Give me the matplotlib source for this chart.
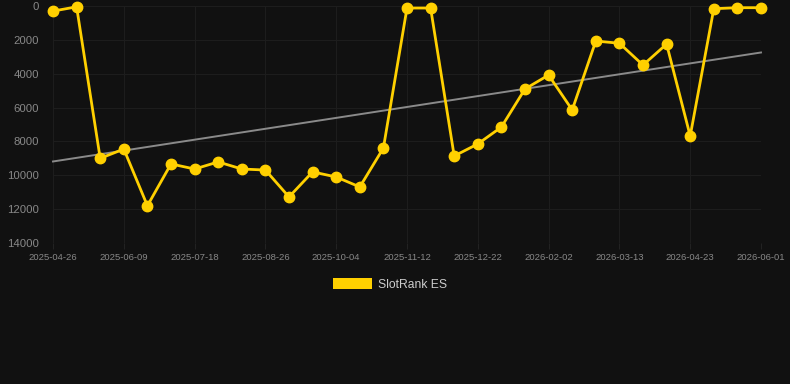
import matplotlib
matplotlib.use("Agg")
import matplotlib.pyplot as plt
import numpy as np
from matplotlib.patches import Patch

plt.rcParams['font.family'] = ['Liberation Sans', 'DejaVu Sans']

tick_labels = ["2025-04-26", "2025-06-09", "2025-07-18", "2025-08-26", "2025-10-04",
               "2025-11-12", "2025-12-22", "2026-02-02", "2026-03-13", "2026-04-23", "2026-06-01"]
ranks = [300, 50, 9000, 8450, 11800, 9330, 9630, 9210, 9630, 9690,
         11280, 9800, 10100, 10690, 8390, 120, 120, 8860, 8150, 7150,
         4900, 4080, 6140, 2070, 2200, 3490, 2250, 7680, 160, 100, 100]
series_name = "SlotRank ES"

bg = "#111111"
gold = "#FFD000"

fig = plt.figure(figsize=(7.9, 3.84), dpi=100, facecolor=bg)
ax = fig.add_axes([53/790, 1-243/384, (761-53)/790, (243-6)/384], facecolor=bg)

x = np.arange(len(ranks))
y = np.array(ranks, dtype=float)
coef = np.polyfit(x, y, 1)
ax.plot(x, np.polyval(coef, x), color="#8a8a8a", lw=1.4, zorder=2, clip_on=False)
ax.plot(x, y, color=gold, lw=2.0, marker='o', ms=7.5, zorder=3, clip_on=False)

ax.set_xlim(0, len(ranks)-1)
ax.set_ylim(14000, 0)
ax.set_yticks(np.arange(0, 14001, 2000))
ax.set_yticklabels([str(v) for v in range(0, 14001, 2000)])
tick_pos = np.arange(0, len(ranks), 3)
ax.set_xticks(tick_pos)
ax.set_xticklabels(tick_labels)
ax.grid(True, color="#1d1d1d", lw=0.8)
ax.set_axisbelow(True)
for s in ax.spines.values():
    s.set_visible(False)
ax.tick_params(axis='y', colors="#888888", labelsize=8.2, length=0, pad=10)
ax.tick_params(axis='x', labelcolor="#888888", color="#222222", labelsize=6.8,
               length=4, width=0.8, pad=3)

leg = fig.legend(handles=[Patch(facecolor=gold, edgecolor='none', label=series_name)],
                 loc='center', bbox_to_anchor=(390/790, 1-284.5/384), frameon=False,
                 handlelength=3.3, handleheight=0.95, fontsize=8.7, labelcolor="#cccccc",
                 handletextpad=0.5)

fig.savefig("out.png", dpi=100, facecolor=bg)
